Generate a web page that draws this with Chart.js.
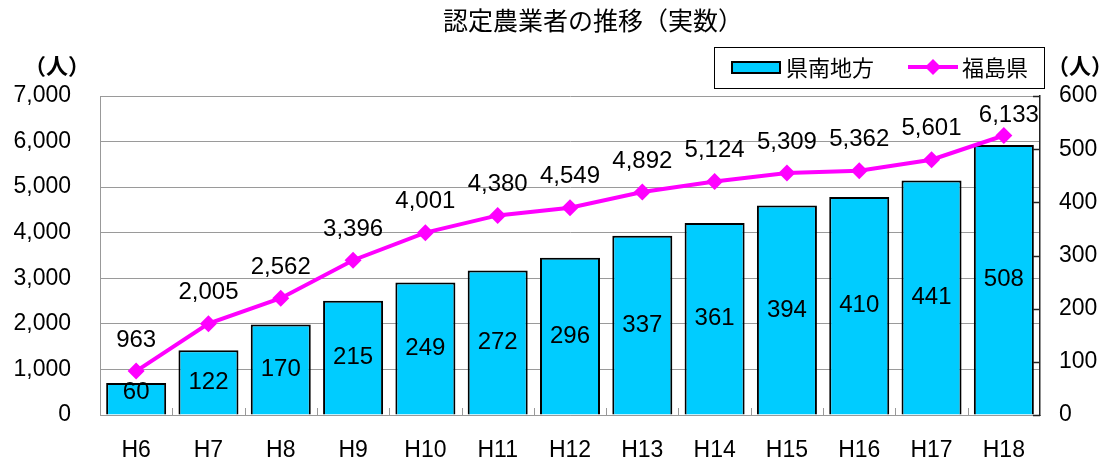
<!DOCTYPE html>
<html lang="ja">
<head>
<meta charset="utf-8">
<title>認定農業者の推移（実数）</title>
<script src="https://cdn.jsdelivr.net/npm/chart.js@4.4.0/dist/chart.umd.min.js"></script>
<style>
    html, body { margin: 0; padding: 0; background: #fff; }
    #wrap { width: 1104px; height: 460px; }
</style>
</head>
<body>
<div id="wrap"><canvas id="chart" width="1104" height="460"></canvas></div>
<script>
const years = ['H6', 'H7', 'H8', 'H9', 'H10', 'H11', 'H12', 'H13', 'H14', 'H15', 'H16', 'H17', 'H18'];
const kennan = [60, 122, 170, 215, 249, 272, 296, 337, 361, 394, 410, 441, 508];
const fukushima = [963, 2005, 2562, 3396, 4001, 4380, 4549, 4892, 5124, 5309, 5362, 5601, 6133];
const leftTicks = { min: 0, max: 7000, step: 1000 };
const rightTicks = { min: 0, max: 600, step: 100 };

const titleText = '認定農業者の推移（実数）';
const unitText = '（人）';
const jpFont = "'Noto Sans CJK JP', sans-serif";
const numFont = "'Liberation Sans', Arial, 'Noto Sans CJK JP', sans-serif";

const CYAN = '#00CCFF';
const MAGENTA = '#FF00FF';

// labels, title, legend and inner tick marks
const decorations = {
    id: 'decorations',
    afterDatasetsDraw(chart) {
        const ctx = chart.ctx;
        const area = chart.chartArea;
        const x = chart.scales.x;
        const y1 = chart.scales.y1;

        ctx.save();

        // small gray ticks between categories
        ctx.strokeStyle = '#999';
        ctx.lineWidth = 1;
        for (let i = 1; i < years.length; i++) {
            const px = Math.round((x.getPixelForTick(i - 1) + x.getPixelForTick(i)) / 2) + 0.5;
            ctx.beginPath();
            ctx.moveTo(px, area.bottom);
            ctx.lineTo(px, area.bottom - 7);
            ctx.stroke();
        }

        // inner ticks on the right axis
        ctx.strokeStyle = '#222';
        ctx.lineWidth = 1.5;
        for (let v = rightTicks.min; v <= rightTicks.max; v += rightTicks.step) {
            const py = Math.round(y1.getPixelForValue(v)) + 0.5;
            ctx.beginPath();
            ctx.moveTo(area.right, py);
            ctx.lineTo(area.right - 7, py);
            ctx.stroke();
        }

        ctx.fillStyle = '#000';
        ctx.font = '24px ' + numFont;
        ctx.textAlign = 'center';
        ctx.textBaseline = 'middle';

        // bar values, centred in bars
        const barMeta = chart.getDatasetMeta(1);
        barMeta.data.forEach((bar, i) => {
            const mid = (bar.y + bar.base) / 2;
            const cy = Math.min(mid, bar.base - 22);
            ctx.fillText(String(kennan[i]), bar.x, cy);
        });

        // line values above points
        const lineMeta = chart.getDatasetMeta(0);
        lineMeta.data.forEach((pt, i) => {
            const cy = Math.max(pt.y - 31, area.top + 19);
            ctx.fillText(fukushima[i].toLocaleString('en-US'), pt.x + (i === years.length - 1 ? 5 : 0), cy);
        });

        ctx.restore();
    },
    afterDraw(chart) {
        const ctx = chart.ctx;
        ctx.save();
        ctx.fillStyle = '#000';
        ctx.textBaseline = 'middle';

        // title
        ctx.font = '25px ' + jpFont;
        ctx.textAlign = 'center';
        ctx.fillText(titleText, 593, 20);

        // unit labels
        ctx.font = 'bold 22px ' + jpFont;
        ctx.fillText(unitText, 57, 66);
        ctx.fillText(unitText, 1080, 66);

        // legend
        ctx.strokeStyle = '#000';
        ctx.lineWidth = 1;
        ctx.strokeRect(714.5, 47.5, 330, 41);

        ctx.fillStyle = CYAN;
        ctx.fillRect(732, 62, 48, 11);
        ctx.lineWidth = 2;
        ctx.strokeRect(732, 62, 48, 11);

        ctx.strokeStyle = MAGENTA;
        ctx.lineWidth = 4;
        ctx.beginPath();
        ctx.moveTo(908, 67);
        ctx.lineTo(958, 67);
        ctx.stroke();
        ctx.fillStyle = MAGENTA;
        ctx.beginPath();
        ctx.moveTo(933, 59);
        ctx.lineTo(941, 67);
        ctx.lineTo(933, 75);
        ctx.lineTo(925, 67);
        ctx.closePath();
        ctx.fill();

        ctx.fillStyle = '#000';
        ctx.textAlign = 'left';
        ctx.font = '22px ' + jpFont;
        ctx.fillText('県南地方', 786, 68);
        ctx.fillText('福島県', 962, 68);

        ctx.restore();
    }
};

new Chart(document.getElementById('chart'), {
    type: 'bar',
    data: {
        labels: years,
        datasets: [
            {
                type: 'line',
                label: '福島県',
                data: fukushima,
                yAxisID: 'y',
                borderColor: MAGENTA,
                backgroundColor: MAGENTA,
                borderWidth: 4,
                pointStyle: 'rectRot',
                pointRadius: 8.5,
                pointBorderWidth: 0,
                tension: 0,
                order: 0,
            },
            {
                type: 'bar',
                label: '県南地方',
                data: kennan,
                yAxisID: 'y1',
                backgroundColor: CYAN,
                borderColor: '#000',
                borderWidth: 2,
                barPercentage: 0.83,
                categoryPercentage: 1,
                order: 1,
            },
        ],
    },
    options: {
        responsive: false,
        animation: false,
        layout: { padding: { top: 96, left: 0, right: 0, bottom: 0 } },
        plugins: {
            legend: { display: false },
            title: { display: false },
            tooltip: { enabled: false },
        },
        scales: {
            x: {
                grid: { display: false, drawTicks: false },
                border: { color: '#999', width: 1 },
                ticks: {
                    color: '#000',
                    font: { family: numFont, size: 23 },
                    padding: 22,
                },
                afterFit(scale) { scale.height = 45; },
            },
            y: {
                position: 'left',
                min: leftTicks.min,
                max: leftTicks.max,
                grid: { color: '#9a9a9a', lineWidth: 1, drawTicks: false },
                border: { color: '#999', width: 1 },
                ticks: {
                    stepSize: leftTicks.step,
                    color: '#000',
                    font: { family: numFont, size: 23 },
                    padding: 29,
                    callback: value => value.toLocaleString('en-US'),
                },
                afterFit(scale) { scale.width = 100; },
            },
            y1: {
                position: 'right',
                min: rightTicks.min,
                max: rightTicks.max,
                grid: { drawOnChartArea: false, drawTicks: false },
                border: { color: '#222', width: 1.5 },
                ticks: {
                    stepSize: rightTicks.step,
                    color: '#000',
                    font: { family: numFont, size: 23 },
                    padding: 19,
                },
                afterFit(scale) { scale.width = 64; },
            },
        },
    },
    plugins: [decorations],
});
</script>
</body>
</html>
